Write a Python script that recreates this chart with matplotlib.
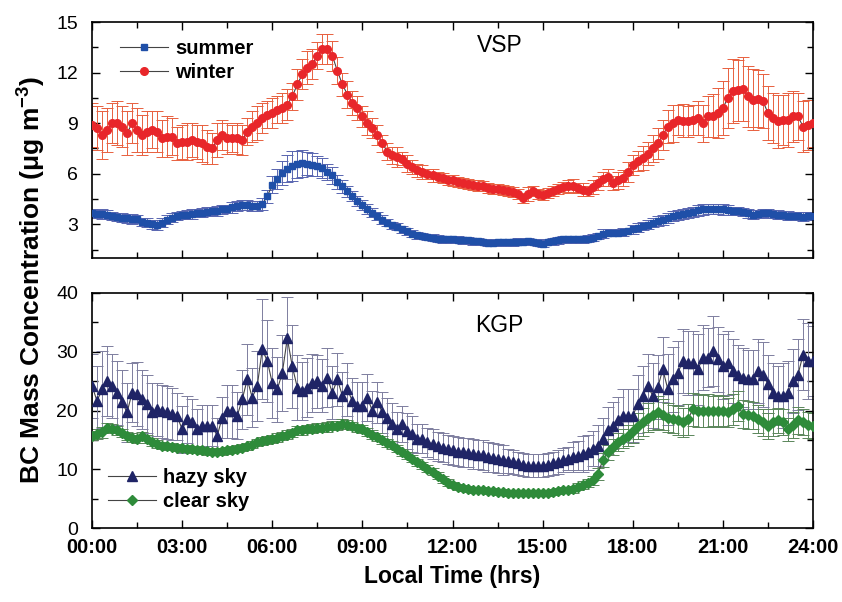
import numpy as np
import matplotlib
matplotlib.use('Agg')
import matplotlib.pyplot as plt
from matplotlib.ticker import MultipleLocator

plt.rcParams['font.family'] = ['Liberation Sans', 'DejaVu Sans']
plt.rcParams['mathtext.fontset'] = 'custom'
plt.rcParams['mathtext.rm'] = 'Liberation Sans:bold'
plt.rcParams['mathtext.bf'] = 'Liberation Sans:bold'
plt.rcParams['mathtext.default'] = 'bf'

### 10-minute means, 00:00 .. 24:00 (145 values each)

# VSP summer
summer = [3.68, 3.62, 3.60, 3.58, 3.50, 3.45, 3.40, 3.35, 3.30, 3.30, 3.15, 3.10,
          3.00, 2.98, 3.10, 3.28, 3.40, 3.48, 3.55, 3.58, 3.60, 3.68, 3.70, 3.75,
          3.78, 3.80, 3.88, 3.90, 4.00, 4.07, 4.15, 4.17, 4.10, 4.07, 4.20, 4.66,
          5.35, 5.70, 6.04, 6.30, 6.44, 6.55, 6.63, 6.60, 6.54, 6.45, 6.34, 6.10,
          5.90, 5.50, 5.25, 4.95, 4.66, 4.40, 4.17, 3.90, 3.70, 3.50, 3.28, 3.10,
          2.95, 2.85, 2.70, 2.59, 2.45, 2.35, 2.30, 2.25, 2.20, 2.15, 2.12, 2.10,
          2.10, 2.08, 2.06, 2.04, 2.00, 1.98, 1.95, 1.90, 1.92, 1.94, 1.95, 1.94,
          1.94, 1.96, 1.97, 2.00, 1.95, 1.90, 1.86, 1.95, 2.00, 2.05, 2.10, 2.10,
          2.10, 2.10, 2.12, 2.15, 2.20, 2.30, 2.45, 2.50, 2.50, 2.50, 2.55, 2.60,
          2.70, 2.80, 2.90, 2.98, 3.10, 3.20, 3.28, 3.40, 3.48, 3.55, 3.62, 3.68,
          3.75, 3.82, 3.88, 3.90, 3.90, 3.92, 3.88, 3.83, 3.80, 3.78, 3.72, 3.65,
          3.58, 3.60, 3.68, 3.65, 3.60, 3.58, 3.55, 3.52, 3.48, 3.48, 3.46, 3.48,
          3.48]
summer_err = [0.25, 0.25, 0.3, 0.25, 0.25, 0.25, 0.25, 0.25, 0.3, 0.25, 0.25, 0.25,
              0.25, 0.3, 0.25, 0.25, 0.25, 0.25, 0.25, 0.25, 0.3, 0.25, 0.25, 0.25,
              0.25, 0.3, 0.25, 0.25, 0.3, 0.3, 0.3, 0.3, 0.3, 0.3, 0.35, 0.4,
              0.5, 0.6, 0.7, 0.8, 0.9, 0.8, 0.8, 0.7, 0.7, 0.6, 0.6, 0.5,
              0.5, 0.4, 0.4, 0.35, 0.3, 0.3, 0.3, 0.3, 0.25, 0.25, 0.25, 0.2,
              0.2, 0.2, 0.2, 0.2, 0.2, 0.2, 0.2, 0.2, 0.2, 0.2, 0.2, 0.2,
              0.2, 0.2, 0.2, 0.2, 0.2, 0.2, 0.2, 0.2, 0.2, 0.2, 0.2, 0.2,
              0.2, 0.2, 0.2, 0.2, 0.2, 0.2, 0.2, 0.2, 0.2, 0.2, 0.2, 0.2,
              0.2, 0.2, 0.2, 0.2, 0.2, 0.2, 0.25, 0.2, 0.2, 0.2, 0.25, 0.2,
              0.25, 0.25, 0.25, 0.25, 0.25, 0.3, 0.3, 0.3, 0.3, 0.3, 0.3, 0.3,
              0.3, 0.3, 0.3, 0.3, 0.3, 0.3, 0.3, 0.3, 0.25, 0.25, 0.25, 0.25,
              0.25, 0.25, 0.25, 0.25, 0.25, 0.25, 0.25, 0.25, 0.25, 0.25, 0.25, 0.25,
              0.25]

# VSP winter
winter = [8.9, 8.7, 8.3, 8.6, 9.0, 9.0, 8.8, 8.4, 9.0, 8.6, 8.3, 8.5,
          8.6, 8.5, 8.1, 8.2, 8.2, 7.8, 7.9, 7.9, 8.0, 7.9, 7.8, 7.6,
          7.5, 8.0, 8.3, 8.1, 8.1, 8.1, 8.0, 8.5, 8.8, 9.0, 9.3, 9.5,
          9.6, 9.8, 9.9, 10.1, 10.6, 11.3, 11.9, 12.3, 12.5, 13.0, 13.4, 13.4,
          13.0, 12.1, 11.3, 10.7, 10.2, 9.9, 9.4, 9.0, 8.7, 8.3, 7.8, 7.3,
          7.1, 7.0, 6.9, 6.6, 6.4, 6.2, 6.1, 6.0, 5.9, 5.8, 5.75, 5.65,
          5.6, 5.5, 5.45, 5.4, 5.35, 5.3, 5.25, 5.15, 5.1, 5.1, 5.05, 5.0,
          4.9, 4.8, 4.55, 4.8, 4.95, 4.8, 4.75, 4.85, 5.0, 5.1, 5.2, 5.25,
          5.3, 5.15, 5.05, 4.95, 5.2, 5.45, 5.7, 5.8, 5.45, 5.6, 5.75, 6.1,
          6.5, 6.75, 6.95, 7.2, 7.5, 7.8, 8.3, 8.8, 9.0, 9.2, 9.15, 9.1,
          9.2, 9.3, 9.0, 9.4, 9.45, 9.6, 9.9, 10.5, 10.9, 10.95, 11.0, 10.6,
          10.4, 10.45, 10.3, 9.6, 9.3, 9.1, 9.2, 9.2, 9.4, 9.4, 8.8, 8.9,
          9.0]
winter_err = [1.3, 1.3, 1.4, 1.3, 1.2, 1.3, 1.2, 1.3, 1.2, 1.3, 1.2, 1.2,
              1.1, 1.2, 1.1, 1.2, 1.1, 1.0, 1.0, 1.1, 1.0, 1.0, 1.1, 1.0,
              0.9, 1.0, 0.9, 0.9, 0.8, 0.9, 0.9, 0.8, 0.9, 1.0, 0.9, 0.8,
              0.9, 0.8, 0.9, 0.9, 0.8, 0.9, 0.9, 1.0, 0.9, 0.8, 0.9, 0.9,
              0.9, 0.8, 0.7, 0.8, 0.7, 0.7, 0.6, 0.7, 0.6, 0.6, 0.5, 0.5,
              0.5, 0.6, 0.4, 0.5, 0.4, 0.4, 0.4, 0.3, 0.4, 0.3, 0.3, 0.3,
              0.3, 0.3, 0.3, 0.3, 0.3, 0.3, 0.3, 0.3, 0.3, 0.3, 0.3, 0.3,
              0.3, 0.3, 0.3, 0.4, 0.3, 0.3, 0.3, 0.3, 0.3, 0.3, 0.3, 0.4,
              0.4, 0.3, 0.4, 0.3, 0.4, 0.4, 0.4, 0.5, 0.4, 0.5, 0.5, 0.6,
              0.6, 0.6, 0.7, 0.7, 0.8, 0.9, 0.9, 1.0, 1.1, 0.9, 1.0, 0.9,
              0.9, 1.0, 1.1, 1.2, 1.3, 1.5, 1.6, 1.8, 1.9, 1.8, 1.9, 1.8,
              1.8, 1.7, 1.6, 1.6, 1.5, 1.6, 1.5, 1.6, 1.5, 1.4, 1.5, 1.5,
              1.4]

# KGP hazy sky
hazy = [24.2, 21.6, 23.6, 25.0, 24.2, 23.0, 21.4, 19.7, 23.0, 22.8, 21.9, 21.1,
        19.7, 20.2, 19.9, 19.7, 19.4, 19.0, 16.8, 18.5, 18.0, 16.8, 17.4, 17.4,
        17.4, 15.7, 18.8, 19.9, 19.9, 19.1, 21.9, 25.3, 22.2, 24.2, 30.4, 28.4,
        24.7, 23.6, 26.4, 32.3, 27.5, 23.9, 23.3, 23.9, 24.7, 25.0, 24.2, 25.6,
        23.0, 25.3, 22.5, 23.6, 21.6, 20.8, 20.8, 22.2, 19.9, 21.4, 19.7, 18.7,
        17.7, 16.8, 17.7, 16.5, 16.0, 15.2, 15.2, 14.6, 14.3, 13.9, 13.7, 13.4,
        13.2, 13.0, 12.9, 12.8, 12.6, 12.5, 12.4, 12.1, 12.0, 11.8, 11.6, 11.4,
        11.2, 11.0, 10.8, 10.6, 10.6, 10.6, 10.6, 10.8, 11.0, 11.2, 11.6, 11.8,
        12.1, 12.3, 12.6, 12.9, 13.5, 14.0, 15.2, 16.6, 17.4, 18.3, 19.1, 19.1,
        19.1, 21.1, 22.5, 24.2, 22.5, 24.0, 27.0, 23.6, 25.3, 26.4, 28.4, 28.1,
        28.1, 27.0, 29.0, 29.0, 30.1, 28.7, 27.5, 28.1, 26.7, 26.1, 25.6, 25.3,
        25.3, 26.7, 26.1, 24.5, 23.0, 22.5, 22.5, 23.0, 25.0, 26.1, 29.5, 28.4,
        28.4]
hazy_err = [5.5, 6.0, 6.5, 6.0, 5.5, 5.5, 5.5, 5.0, 5.0, 5.5, 5.0, 5.0,
            5.0, 4.5, 4.5, 4.5, 4.5, 4.0, 4.0, 4.0, 4.0, 3.5, 3.5, 3.5,
            3.5, 3.0, 3.5, 4.5, 4.5, 4.0, 5.0, 6.0, 5.0, 6.0, 8.5, 7.0,
            6.0, 5.5, 6.5, 7.0, 7.0, 5.5, 5.0, 5.0, 5.0, 4.5, 4.5, 5.0,
            4.5, 4.5, 4.0, 4.5, 4.0, 4.0, 4.0, 4.0, 3.5, 3.5, 3.5, 3.5,
            3.5, 3.0, 3.0, 3.0, 3.0, 2.5, 2.5, 2.5, 2.5, 2.5, 2.5, 2.5,
            2.5, 2.5, 2.5, 2.5, 2.5, 2.5, 2.5, 2.5, 2.5, 2.5, 2.5, 2.0,
            2.0, 2.0, 2.0, 2.0, 2.0, 2.0, 2.0, 2.0, 2.0, 2.0, 2.0, 2.0,
            2.5, 2.5, 3.0, 3.0, 3.0, 3.5, 3.5, 4.0, 4.0, 4.0, 4.5, 4.5,
            4.5, 5.0, 5.0, 5.5, 5.5, 5.5, 5.5, 6.0, 5.5, 5.5, 5.5, 5.5,
            5.5, 6.0, 5.5, 5.0, 6.0, 5.5, 5.5, 5.5, 5.5, 5.0, 5.0, 5.0,
            5.0, 5.5, 5.5, 5.0, 5.0, 5.0, 5.5, 5.5, 5.5, 6.0, 6.0, 6.5,
            6.0]

# KGP clear sky
clear = [15.7, 16.0, 16.3, 17.1, 16.9, 16.6, 16.2, 15.7, 15.4, 15.2, 15.7, 15.2,
         14.6, 14.3, 14.0, 13.9, 13.8, 13.7, 13.6, 13.5, 13.4, 13.3, 13.2, 13.1,
         13.0, 13.0, 13.1, 13.2, 13.3, 13.5, 13.7, 13.9, 14.2, 14.6, 14.8, 15.0,
         15.2, 15.4, 15.7, 15.9, 16.2, 16.6, 16.6, 16.8, 16.9, 17.1, 17.1, 17.2,
         17.4, 17.4, 17.7, 17.6, 17.3, 17.0, 16.8, 16.4, 15.9, 15.5, 15.0, 14.5,
         14.1, 13.5, 12.9, 12.4, 11.8, 11.2, 10.7, 10.1, 9.6, 8.9, 8.3, 7.7,
         7.3, 7.0, 6.8, 6.6, 6.5, 6.4, 6.4, 6.3, 6.25, 6.2, 6.1, 6.0,
         6.0, 5.95, 5.9, 5.9, 5.9, 5.9, 5.95, 6.0, 6.1, 6.3, 6.4, 6.4,
         6.6, 7.0, 7.3, 7.7, 8.1, 9.2, 11.5, 12.9, 13.8, 14.6, 15.2, 15.7,
         16.5, 17.4, 18.1, 18.8, 19.2, 19.7, 19.3, 18.8, 18.5, 18.3, 18.0, 18.5,
         20.2, 20.0, 19.9, 20.0, 19.9, 19.9, 19.9, 19.7, 20.2, 20.8, 19.4, 19.3,
         19.1, 18.5, 18.0, 17.4, 18.0, 18.3, 18.0, 16.8, 17.5, 18.3, 18.0, 17.6,
         17.4]
clear_err = [0.8, 0.8, 0.9, 0.8, 0.8, 0.7, 0.7, 0.7, 0.8, 0.7, 0.7, 0.7,
             0.7, 0.7, 0.6, 0.6, 0.6, 0.6, 0.6, 0.6, 0.6, 0.6, 0.6, 0.6,
             0.6, 0.6, 0.6, 0.6, 0.6, 0.6, 0.6, 0.6, 0.6, 0.6, 0.7, 0.7,
             0.7, 0.7, 0.7, 0.7, 0.7, 0.7, 0.7, 0.7, 0.8, 0.8, 0.8, 0.8,
             0.8, 0.8, 0.8, 0.7, 0.7, 0.7, 0.7, 0.7, 0.7, 0.7, 0.7, 0.7,
             0.7, 0.6, 0.6, 0.6, 0.6, 0.6, 0.6, 0.6, 0.6, 0.6, 0.6, 0.6,
             0.5, 0.5, 0.5, 0.5, 0.5, 0.5, 0.5, 0.5, 0.5, 0.5, 0.5, 0.5,
             0.5, 0.5, 0.5, 0.5, 0.5, 0.5, 0.5, 0.5, 0.5, 0.5, 0.5, 0.5,
             0.6, 0.6, 0.7, 0.7, 0.8, 1.0, 1.2, 1.3, 1.4, 1.5, 1.6, 1.8,
             2.0, 2.2, 2.4, 2.5, 2.6, 2.8, 2.6, 2.5, 2.4, 2.5, 2.5, 2.6,
             2.8, 2.8, 2.7, 2.8, 2.6, 2.7, 2.6, 2.5, 2.6, 2.6, 2.4, 2.4,
             2.3, 2.4, 2.3, 2.2, 2.3, 2.2, 2.2, 2.0, 2.2, 2.3, 2.2, 2.2,
             2.2]

time_ticks = [0, 3, 6, 9, 12, 15, 18, 21, 24]
time_labels = ['00:00', '03:00', '06:00', '09:00', '12:00', '15:00', '18:00', '21:00', '24:00']

hours = np.arange(len(summer)) / 6.0

fig = plt.figure(figsize=(8.42, 6.02), dpi=100)
ax1 = fig.add_axes([0.1093, 0.5714, 0.8563, 0.3920])
ax2 = fig.add_axes([0.1093, 0.1229, 0.8563, 0.3904])


def draw(ax, y, err, color, ecolor, marker, ms, label):
    ax.errorbar(hours, y, yerr=err, fmt='none', ecolor=ecolor, elinewidth=0.7,
                capsize=4, capthick=0.7, zorder=2)
    ax.plot(hours, y, color='#444444', lw=0.8, marker=marker, ms=ms,
            mfc=color, mec=color, label=label, zorder=3)


draw(ax1, summer, summer_err, '#1f4fa8', '#5865b0', 's', 5, 'summer')
draw(ax1, winter, winter_err, '#e8262a', '#e8603f', 'o', 5.5, 'winter')
draw(ax2, hazy, hazy_err, '#1f2466', '#7d7d9e', '^', 7, 'hazy sky')
draw(ax2, clear, clear_err, '#2e8b3a', '#5a865a', 'D', 5, 'clear sky')

ax1.set_ylim(1.0, 15)
ax1.yaxis.set_major_locator(MultipleLocator(3))
ax1.yaxis.set_minor_locator(MultipleLocator(1.5))
ax2.set_ylim(0, 40)
ax2.yaxis.set_major_locator(MultipleLocator(10))
ax2.yaxis.set_minor_locator(MultipleLocator(5))

for ax in (ax1, ax2):
    ax.set_xlim(0, 24)
    ax.set_xticks(time_ticks)
    ax.xaxis.set_minor_locator(MultipleLocator(1.5))
    ax.tick_params(which='both', direction='in', top=True, right=True, width=1.0)
    ax.tick_params(which='major', length=6)
    ax.tick_params(which='minor', length=4)
    ax.tick_params(axis='y', labelsize=14, pad=10)
    for s in ax.spines.values():
        s.set_linewidth(1.2)

ax1.set_xticklabels([])
ax2.set_xticklabels(time_labels, fontsize=14.5, fontweight='bold')
ax2.tick_params(axis='x', pad=7)

ax1.text(0.565, 0.9, 'VSP', transform=ax1.transAxes, fontsize=16.5, ha='center', va='center')
ax2.text(0.565, 0.86, 'KGP', transform=ax2.transAxes, fontsize=16.5, ha='center', va='center')

leg_kw = dict(frameon=False, borderpad=0, borderaxespad=0, handlelength=2.4,
              handletextpad=0.35, labelspacing=0.25, prop={'weight': 'bold', 'size': 14.5})
ax1.legend(loc='upper left', bbox_to_anchor=(0.039, 0.93), **leg_kw)
ax2.legend(loc='upper left', bbox_to_anchor=(0.022, 0.255), **leg_kw)

fig.text(0.038, 0.535, 'BC Mass Concentration (μg m$^{-3}$)', rotation=90,
         fontsize=19, fontweight='bold', ha='center', va='center')
fig.text(0.537, 0.042, 'Local Time (hrs)', fontsize=16.5, fontweight='bold',
         ha='center', va='center')

fig.savefig('out.png', dpi=100)
